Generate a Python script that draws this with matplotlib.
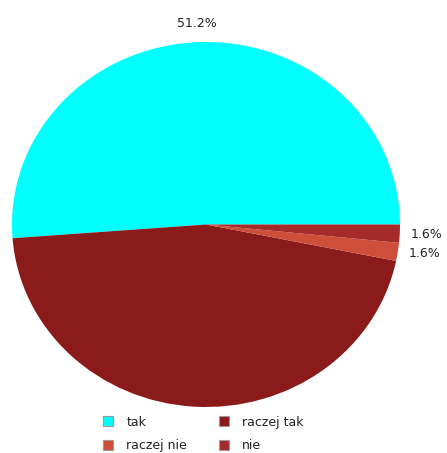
import matplotlib
matplotlib.use("Agg")
import matplotlib.pyplot as plt
import matplotlib.transforms as mtransforms
from matplotlib.lines import Line2D

categories = ["tak", "raczej tak", "raczej nie", "nie"]
values = [51.2, 45.6, 1.6, 1.6]
colors = ["#00ffff", "#8b1a1a", "#cd4f39", "#a52a2a"]
shown_labels = ["51.2%", "", "1.6%", "1.6%"]

fig = plt.figure(figsize=(4.47, 4.53), dpi=100)
ax = fig.add_axes([12/447, 46/453, 388/447, 365/453])
wedges, texts = ax.pie(values, colors=colors, labels=shown_labels, startangle=0,
                       counterclock=True, labeldistance=1.055,
                       wedgeprops=dict(linewidth=0),
                       textprops=dict(fontsize=9, color="#222222"))
ax.set_aspect("auto")
ax.set_xlim(-1, 1)
ax.set_ylim(-1, 1)
ax.axis("off")

# top label centred and nudged upward
texts[0].set_ha("center")
texts[0].set_transform(ax.transData + mtransforms.ScaledTranslation(-1/72, 6/72, fig.dpi_scale_trans))

order = [0, 2, 1, 3]
handles = [Line2D([0], [0], marker="s", linestyle="none", markersize=7.5,
                  markerfacecolor=colors[i], markeredgecolor="#999999", markeredgewidth=0.8)
           for i in order]
fig.legend(handles, [categories[i] for i in order], loc="center", ncol=2, frameon=False,
           bbox_to_anchor=(199.5/447, 0.042), bbox_transform=fig.transFigure,
           fontsize=9, columnspacing=1.9, handletextpad=0.5, labelspacing=0.85,
           labelcolor="#222222")
fig.savefig("out.png", dpi=100)
